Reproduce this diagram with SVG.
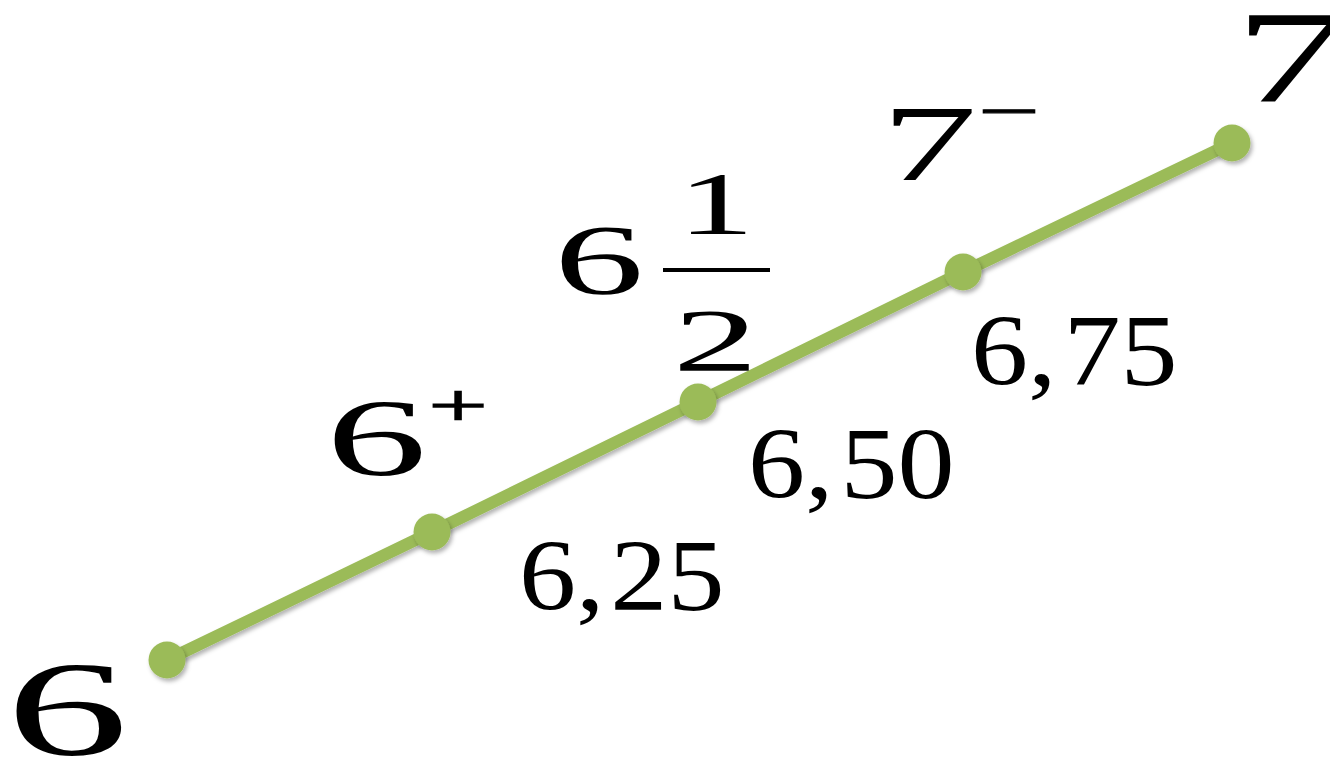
<svg xmlns="http://www.w3.org/2000/svg" width="1330" height="757" viewBox="0 0 1330 757">
  <style>
    .seg { stroke: #9BBB59; stroke-width: 12; stroke-linecap: round; fill: none; }
    .dot { fill: #9BBB59; }
    .big { font-family: "Liberation Serif", "Times New Roman", serif; fill: #000; }
    .sup { font-family: "Liberation Serif", "Times New Roman", serif; fill: #000; stroke: #000; stroke-width: 1.3; }
    .num { font-family: "Liberation Serif", "Times New Roman", serif; font-size: 102px; fill: #000; }
  </style>
  <defs>
    <filter id="sh" x="-20%" y="-20%" width="140%" height="140%">
      <feDropShadow dx="2" dy="3" stdDeviation="2" flood-color="#000" flood-opacity="0.3"/>
    </filter>
  </defs>
  <rect width="1330" height="757" fill="#fff"/>

  <g id="connectors" filter="url(#sh)">
    <line class="seg" x1="167" y1="660" x2="432" y2="532"/>
    <line class="seg" x1="432" y1="532" x2="698" y2="402"/>
    <line class="seg" x1="698" y1="402" x2="963" y2="272"/>
    <line class="seg" x1="963" y1="272" x2="1232" y2="143"/>
  </g>

  <g id="node-6">
    <circle class="dot" cx="167" cy="660" r="18.5" filter="url(#sh)"/>
    <text class="big" font-size="136" transform="translate(6,755) scale(1.8,1)">6</text>
  </g>

  <g id="node-6plus">
    <circle class="dot" cx="432" cy="532" r="18.5" filter="url(#sh)"/>
    <text class="big" font-size="111" transform="translate(326,475) scale(1.82,1)">6</text>
    <text class="sup" font-size="60" text-anchor="middle" transform="translate(458,425) scale(1.75,1)">+</text>
    <text class="num" transform="translate(519,610) scale(1.12,1)">6,<tspan dx="5">25</tspan></text>
  </g>

  <g id="node-6half">
    <circle class="dot" cx="698" cy="402" r="18.5" filter="url(#sh)"/>
    <text class="big" font-size="100" transform="translate(554,293) scale(1.8,1)">6</text>
    <text class="big" font-size="88" text-anchor="middle" transform="translate(716,233) scale(1.75,1)">1</text>
    <line x1="663" y1="270" x2="770" y2="270" stroke="#000" stroke-width="4"/>
    <text class="big" font-size="89" text-anchor="middle" transform="translate(715.5,370) scale(1.92,1)">2</text>
    <text class="num" transform="translate(748,498) scale(1.12,1)">6,<tspan dx="6">50</tspan></text>
  </g>

  <g id="node-7minus">
    <circle class="dot" cx="963" cy="272" r="18.5" filter="url(#sh)"/>
    <text class="big" font-size="108" transform="translate(881,180) scale(1.78,1)">7</text>
    <text class="sup" font-size="60" text-anchor="middle" transform="translate(1009,131) scale(1.8,1)">−</text>
    <text class="num" transform="translate(971,385) scale(1.12,1)">6,<tspan dx="6">75</tspan></text>
  </g>

  <g id="node-7">
    <circle class="dot" cx="1232" cy="143" r="18.5" filter="url(#sh)"/>
    <text class="big" font-size="131" transform="translate(1234,101) scale(1.75,1)">7</text>
  </g>
</svg>
